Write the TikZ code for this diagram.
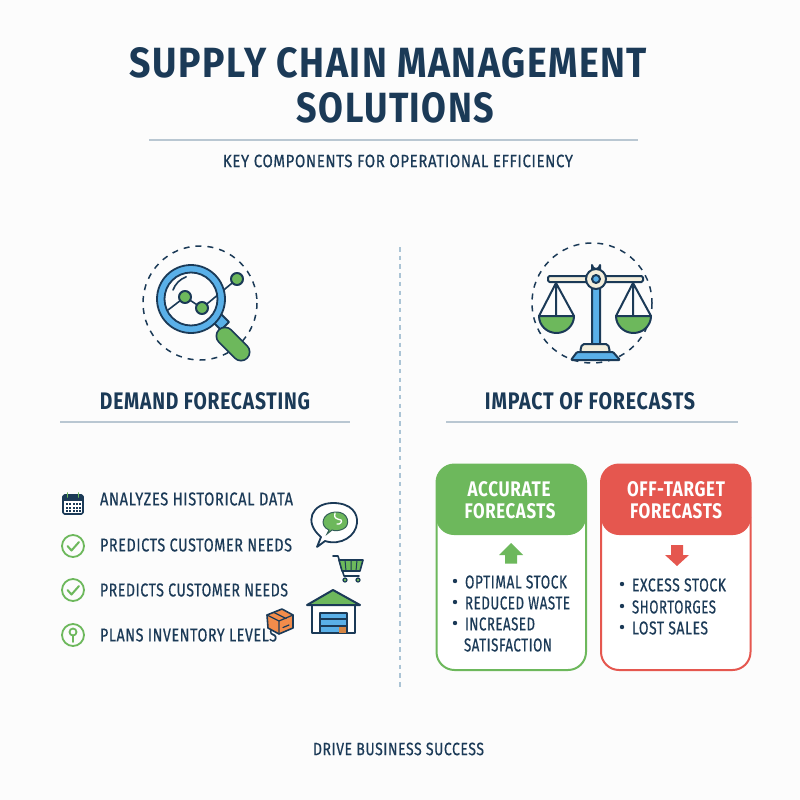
\documentclass[tikz,border=0pt]{standalone}
\usepackage{fontspec}
\usepackage{graphicx}
\setmainfont{Fira Sans}
\definecolor{navy}{HTML}{1B3A57}
\definecolor{gn}{HTML}{6DB85C}
\definecolor{rd}{HTML}{E5574F}
\definecolor{bl}{HTML}{5AB0E8}
\definecolor{rule}{HTML}{B9C7D2}
\definecolor{cream}{HTML}{F3EEDC}
\definecolor{org}{HTML}{F28C4B}
\newcommand{\fit}[3]{\resizebox{#1pt}{#2pt}{#3}}
\newcommand{\lsp}{\addfontfeature{LetterSpace=4}}
\newcommand{\lsb}{\addfontfeature{LetterSpace=4,FakeBold=0.6}}
\tikzset{
 txt/.style={inner sep=0pt,outer sep=0pt,text=navy},
 lft/.style={txt,anchor=west},
 ln/.style={draw=navy,line width=2pt,line join=round,line cap=round},
 thin rule/.style={draw=rule,line width=1.2pt},
 dashc/.style={draw=navy,line width=1.5pt,dash pattern=on 6pt off 6pt},
 gln/.style={draw=gn,line width=1.8pt,line cap=round,line join=round},
 bullet/.style={circle,fill=navy,inner sep=0pt,minimum size=4.4pt},
}
\begin{document}
\begin{tikzpicture}[x=1pt,y=-1pt]
\useasboundingbox (0,0) rectangle (800,800);
\fill[white!99!black] (0,0) rectangle (800,800);
% titles
\node[txt] (t1) at (388.5,63) {\fit{517}{30}{\bfseries\lsp SUPPLY CHAIN MANAGEMENT}};
\node[txt] (t2) at (395.5,108) {\fit{197}{30}{\bfseries\lsp SOLUTIONS}};
\draw[thin rule] (149,140) -- (638,140);
\node[txt] (st) at (398,161) {\fit{350}{12.5}{\lsb KEY COMPONENTS FOR OPERATIONAL EFFICIENCY}};
\draw[draw=rule!85!bl,line width=1.5pt,dash pattern=on 4.5pt off 4.2pt] (400,247) -- (400,690);
% magnifier
\draw[dashc] (200,303) circle (57);
\draw[ln,line width=1.6pt] (168,310) -- (185,297) -- (202,308) -- (237,279);
\draw[ln,fill=bl] (213,322) -- (221,314) -- (229,322) -- (221,330) -- cycle;
\draw[navy,line width=19pt,line cap=round] (225,336) -- (241,352);
\draw[gn,line width=15.5pt,line cap=round] (225,336) -- (241,352);
\draw[draw=navy,line width=1.8pt,even odd rule,fill=bl] (191,299) circle (34) (191,299) circle (26.5);
\draw[navy,line width=1.6pt,line cap=round] (173,290) arc[start angle=200,end angle=250,radius=22];
\draw[ln,fill=gn] (185,297) circle (6);
\draw[ln,fill=gn] (202,308) circle (6);
\draw[ln,fill=gn] (237,279) circle (6);
% scale
\draw[dashc] (592,303) circle (60);
\draw[ln,fill=bl] (592,350) -- (592,265) arc[start angle=180,end angle=0,radius=4] -- (600,350) -- cycle;
\draw[ln,fill=cream,rounded corners=1.5pt] (548,276) rectangle (643,282);
\draw[ln,fill=cream] (596,279) circle (10);
\draw[ln,fill=bl] (596,279) circle (4);
\draw[ln,fill=cream,rounded corners=2pt] (580,352) -- (582,344) -- (608,344) -- (610,352) -- cycle;
\draw[ln,fill=bl,rounded corners=1pt] (571,360) -- (577,352) -- (613,352) -- (620,360) -- cycle;
\draw[ln] (539,316) -- (556,283) -- (574,316) (556,283) -- (556,316);
\draw[ln] (616,316) -- (633,283) -- (651,316) (633,283) -- (633,316);
\draw[ln,fill=gn] (539,316) -- (574,316) arc[start angle=0,end angle=180,radius=17.5,y radius=17] -- cycle;
\draw[ln,fill=gn] (616,316) -- (651,316) arc[start angle=0,end angle=180,radius=17.5,y radius=17] -- cycle;
% section headers
\node[txt] (h1) at (205,401) {\fit{210}{17}{\bfseries\lsp DEMAND FORECASTING}};
\node[txt] (h2) at (590,401) {\fit{210}{17}{\bfseries\lsp IMPACT OF FORECASTS}};
\draw[thin rule] (60,422) -- (350,422);
\draw[thin rule] (446,422) -- (738,422);
% list
\node[lft] (l1) at (100,499) {\fit{193}{13}{\lsb ANALYZES HISTORICAL DATA}};
\node[lft] (l2) at (100,545) {\fit{192}{13}{\lsb PREDICTS CUSTOMER NEEDS}};
\node[lft] (l3) at (100,590) {\fit{188}{13}{\lsb PREDICTS CUSTOMER NEEDS}};
\node[lft] (l4) at (100,635) {\fit{177}{13}{\lsb PLANS INVENTORY LEVELS}};
% calendar
\draw[ln,fill=white,line width=1.6pt,rounded corners=1.5pt] (63,495) rectangle (83,514);
\fill[navy] (63,495) rectangle (83,501);
\draw[gn,line width=1.6pt,line cap=round] (67.5,493) -- (67.5,497) (78.5,493) -- (78.5,497);
\foreach \yy in {504,507.5,511}{\foreach \xx in {66.5,70,73.5,77,80}{\fill[navy] (\xx-1,\yy-1) rectangle (\xx+1,\yy+1);}}
% checks
\draw[gln] (73,546) circle (11);
\draw[gln,line width=2pt] (67.5,546) -- (71.5,550.5) -- (79,542);
\draw[gln] (73,590) circle (11);
\draw[gln,line width=2pt] (67.5,590) -- (71.5,594.5) -- (79,586);
\draw[gln] (73,635) circle (11);
\draw[gln] (73,632) circle (3.5);
\draw[gln] (73,635.5) -- (73,642);
% speech bubble
\draw[ln,fill=white,line width=1.8pt] (317,547) -- (321,537) .. controls (303,522) and (312,503) .. (333,503) .. controls (352,503) and (358,514) .. (357,523) .. controls (356,536) and (341,546) .. (325,541) -- cycle;
\draw[navy!70!gn,line width=1pt,fill=gn] (327,534) -- (329,530) .. controls (319,526) and (322,513) .. (335,512) .. controls (349,511) and (351,526) .. (343,529) .. controls (339,531) and (335,531) .. (332,530) -- cycle;
\draw[white,line width=1.3pt,line cap=round] (335,513) .. controls (333,519) and (338,519) .. (341,520) .. controls (343,522) and (339,525) .. (337,524);
% cart
\draw[ln,line width=1.6pt] (333,556) -- (338,556) -- (344,576) -- (359,576);
\draw[ln,fill=gn,line width=1.6pt] (339,560) -- (363,560) -- (360,571) -- (342,571) -- cycle;
\draw[ln,line width=1pt] (345,560) -- (346,571) (351,560) -- (351,571) (357,560) -- (356,571);
\draw[ln,fill=gn,line width=1.2pt] (345,580) circle (2);
\draw[ln,fill=gn,line width=1.2pt] (358,580) circle (2);
% warehouse
\draw[ln,fill=white] (312,605) rectangle (355,633);
\draw[ln,fill=gn] (307,605) -- (333,590) -- (360,605) -- cycle;
\draw[ln,fill=bl,line width=1.6pt] (320,613) rectangle (347,633);
\draw[navy,line width=1.2pt] (320,619) -- (347,619) (320,626) -- (347,626);
\fill[brown!60!org] (339,627) rectangle (346,632.5);
% box
\draw[ln,fill=org,line width=1.6pt] (267,615) -- (282,609) -- (293,615) -- (293,628) -- (279,634) -- (268,628) -- cycle;
\draw[ln,line width=1.2pt] (267,615) -- (279,621) -- (293,615) (279,621) -- (279,634) (274,612.5) -- (286,618.5);
\draw[ln,line width=1.2pt] (283,627.5) -- (289,625);
% green card
\draw[draw=gn,line width=2pt,fill=white,rounded corners=18pt] (436.5,464.5) rectangle (586,670);
\fill[gn,rounded corners=18pt] (436,464) rectangle (586,500);
\fill[gn] (436,482) rectangle (586,517);
\fill[gn,rounded corners=18pt] (436,500) rectangle (586,535);
\node[txt,text=white] (c1a) at (509,489) {\fit{83}{15}{\bfseries\lsp ACCURATE}};
\node[txt,text=white] (c1b) at (510,511) {\fit{91}{15}{\bfseries\lsp FORECASTS}};
\fill[gn] (511,543) -- (523,555) -- (517,555) -- (517,563.5) -- (505,563.5) -- (505,555) -- (499,555) -- cycle;
\node[bullet] (b1) at (455,581) {};
\node[bullet] (b2) at (455,602) {};
\node[bullet] (b3) at (455,623) {};
\node[lft] (o1) at (465,582) {\fit{102}{13}{\lsb OPTIMAL STOCK}};
\node[lft] (o2) at (465,603) {\fit{105}{13}{\lsb REDUCED WASTE}};
\node[lft] (o3) at (465,624) {\fit{70}{13}{\lsb INCREASED}};
\node[lft] (o4) at (464,645) {\fit{88}{13}{\lsb SATISFACTION}};
% red card
\draw[draw=rd,line width=2pt,fill=white,rounded corners=18pt] (601,464.5) rectangle (750.5,670);
\fill[rd,rounded corners=18pt] (601,464) rectangle (751,500);
\fill[rd] (601,482) rectangle (751,517);
\fill[rd,rounded corners=18pt] (601,500) rectangle (751,535);
\node[txt,text=white] (c2a) at (676,489) {\fit{98}{15}{\bfseries\lsp OFF-TARGET}};
\node[txt,text=white] (c2b) at (676,511) {\fit{92}{15}{\bfseries\lsp FORECASTS}};
\fill[rd] (677,566) -- (665,555) -- (671,555) -- (671,545) -- (683,545) -- (683,555) -- (689,555) -- cycle;
\node[bullet] (b4) at (622,584) {};
\node[bullet] (b5) at (622,606) {};
\node[bullet] (b6) at (622,627) {};
\node[lft] (r1) at (632,585) {\fit{94}{13}{\lsb EXCESS STOCK}};
\node[lft] (r2) at (632,607) {\fit{84}{13}{\lsb SHORTORGES}};
\node[lft] (r3) at (632,628) {\fit{76}{13}{\lsb LOST SALES}};
% footer
\node[txt] (ft) at (398.5,749) {\fit{171}{12.5}{\lsb DRIVE BUSINESS SUCCESS}};
\end{tikzpicture}
\end{document}
